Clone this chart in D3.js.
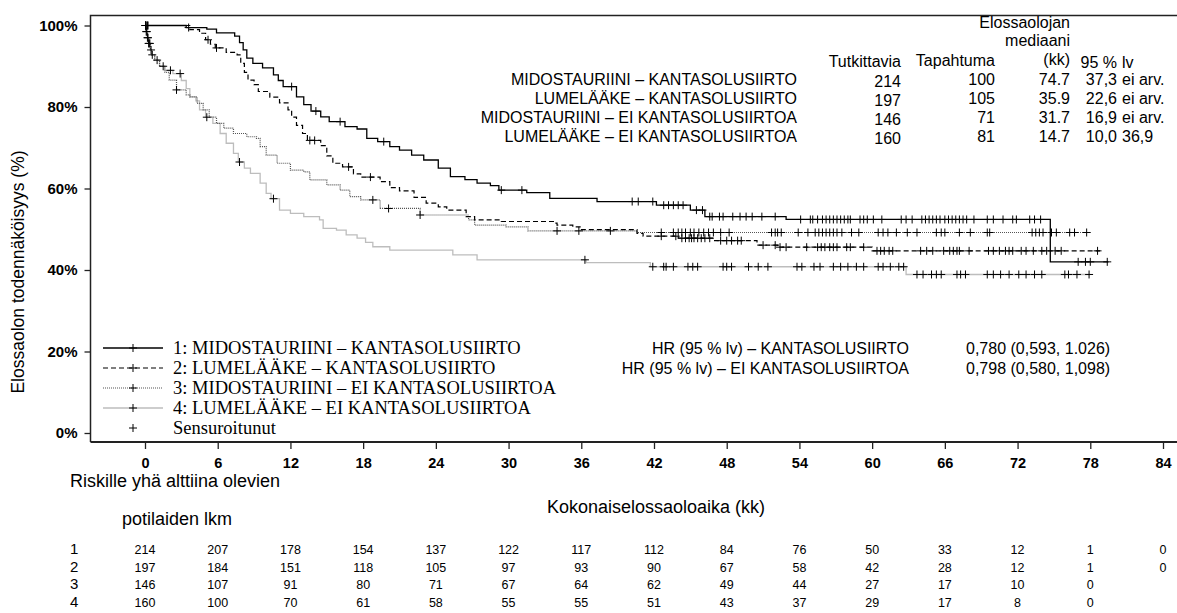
<!DOCTYPE html>
<html>
<head>
<meta charset="utf-8">
<script src="https://cdn.jsdelivr.net/npm/d3@7"></script>
<style>
  body { margin: 0; background: #fff; }
  text { font-family: "Liberation Sans", Arial, sans-serif; fill: #000; }
  .serif { font-family: "Liberation Serif", "Times New Roman", serif; }
</style>
</head>
<body>
<svg id="chart" width="1177" height="613"></svg>
<script>
// time axis + y axis ticks
var months = [0, 6, 12, 18, 24, 30, 36, 42, 48, 54, 60, 66, 72, 78, 84];
var yTicks = [0, 20, 40, 60, 80, 100];

var groupNames = ["MIDOSTAURIINI – KANTASOLUSIIRTO", "LUMELÄÄKE – KANTASOLUSIIRTO",
  "MIDOSTAURIINI – EI KANTASOLUSIIRTOA", "LUMELÄÄKE – EI KANTASOLUSIIRTOA"];
var nPatients = [214, 197, 146, 160];
var nEvents = [100, 105, 71, 81];
var medians = ["74.7", "35.9", "31.7", "14.7"];
var ciLow = ["37,3", "22,6", "16,9", "10,0"];
var ciHigh = ["ei arv.", "ei arv.", "ei arv.", "36,9"];

var hrLabels = ["HR (95 % lv) – KANTASOLUSIIRTO", "HR (95 % lv) – EI KANTASOLUSIIRTOA"];
var hrValues = ["0,780 (0,593, 1.026)", "0,798 (0,580, 1,098)"];

// Kaplan-Meier steps: [month, survival %] from that month on
var steps1 = [[0,100],[3.4,99.5],[5.1,99.1],[5.9,98.2],[7.4,97.4],[7.8,95.8],[8.1,94],[8.4,92],[8.9,90.7],[9.7,89.6],
  [10.6,87.9],[11.0,86.5],[11.4,85],[12.5,82.5],[13.1,80.6],[13.7,79],[14.5,77.6],[15.2,76.4],[16.5,75.2],[17.5,74.6],
  [18.3,72.3],[19.2,71.5],[20.2,70.3],[21,69.4],[22,68.2],[23,67],[24.2,65],[25.2,62.9],[26.4,62.2],[27.4,61.3],
  [28.5,60.7],[29.2,59.6],[31.5,59],[33.4,57.6],[37.3,56.8],[42.2,55.9],[45,54.7],[46.2,53.1],[52.9,52.4],[74.7,42.0]];
var steps2 = [[0,100],[3.7,99.0],[4.5,98.1],[5.0,96.5],[5.4,95.4],[5.8,94.5],[6.7,93.4],[7.6,92.8],[7.9,90.7],[8.2,88.5],
  [8.5,86.6],[9.0,85.5],[9.35,83.8],[10.3,82.4],[11.1,81.0],[11.8,79.3],[12.1,77.5],[12.5,75.5],[13.0,73.5],[13.4,71.8],
  [14.5,70.5],[15.0,68.0],[15.5,66.2],[16.3,65.3],[17.2,63.6],[17.8,62.8],[19.4,61.7],[20.2,60.2],[21,59.4],[22.2,57.8],
  [23.2,56.4],[24.2,55.5],[24.9,54.7],[26.5,53.1],[27.2,52.3],[29.4,51.9],[33.7,51.5],[34.0,51.0],[35.3,50.6],[35.9,49.9],
  [40.6,49.0],[41.1,48.3],[44,47.8],[47,47.2],[50.5,46.1],[52.2,45.6],[60.0,44.7]];
var steps3 = [[0,100],[0.1,98.5],[0.2,97],[0.3,95.6],[0.45,94],[0.55,92.8],[0.8,91.5],[1.2,90],[1.65,88.5],[2.0,86.6],
  [2.6,84.2],[3.4,83],[3.7,82.5],[4.3,80.9],[4.8,79.3],[5.3,77.5],[5.9,76],[6.5,74.8],[7.3,73.5],[8.4,72.7],
  [9.2,72.3],[9.5,70.3],[10,68.2],[10.9,66.2],[12,64.5],[13.1,64.1],[13.6,62.1],[15,60.9],[16.1,59.6],[16.9,58],
  [17.8,57.2],[19.4,55.1],[22.7,53.5],[26.7,52.3],[27.2,51],[29.8,50.6],[31.6,49.6],[40.6,49.2]];
var steps4 = [[0,100],[0.1,98.5],[0.2,97],[0.3,95.6],[0.45,94],[0.55,92.8],[0.8,91.5],[1.2,90],[1.6,89],[2.3,88.2],
  [3.0,86.5],[3.4,84.5],[3.7,82.5],[4.2,81.5],[4.5,79.3],[5.0,77.5],[5.6,76],[6.2,73.5],[6.7,71.1],[7.3,68.6],
  [7.7,66.5],[8.2,65],[8.7,63.7],[9.5,61.3],[10,58.8],[10.4,57.5],[11.1,54.7],[12,53.9],[13.1,53.1],[14.4,52.3],
  [14.7,50.2],[15.8,49.8],[16.6,48.6],[17.5,47.8],[18.2,46.8],[18.8,45.7],[20.2,44.9],[25.4,43.7],[27.4,42.5],[36.4,41.8],
  [41.7,40.8],[62.8,38.9]];
var endTimes = [79.5, 78.8, 78.0, 78.0];

// censoring times (months)
var censor1 = [0.05,0.15,0.25,3.6,12.1,14.1,16.1,19.7,29.4,31.1,40.2,40.7,41.9,42.8,43.2,43.6,44.0,44.4,45.5,46.0,46.6,
  46.8,47.4,47.7,48.5,49.1,49.6,50.1,50.9,52.0,54.1,54.9,55.1,55.5,55.9,56.2,56.5,56.8,57.1,57.4,57.7,58.0,58.2,59.0,
  59.3,59.6,60.1,60.8,62.4,62.8,63.3,64.1,64.4,64.7,65.0,65.3,65.6,66.0,66.3,66.6,66.9,67.2,67.5,67.8,68.4,69.5,70.0,
  70.8,71.6,71.9,73.0,73.4,73.9,77.0,77.6,78.0,79.4];
var censor2 = [0.05,0.2,5.2,5.9,13.6,14.0,16.8,18.6,42.6,43.8,44.3,44.6,44.9,45.1,45.3,45.6,45.9,46.2,46.6,47.5,48.0,
  48.4,48.9,49.2,51.0,52.0,52.4,52.9,54.6,55.5,55.8,56.1,56.5,56.8,57.1,57.9,58.2,59.3,60.4,60.7,61.0,61.4,61.7,64.0,
  64.5,65.0,65.9,66.4,66.7,67.0,67.2,68.0,69.6,70.0,70.5,71.0,71.3,71.6,72.3,72.7,73.3,74.0,74.4,75.1,75.6,78.6];
var censor3 = [0.05,0.15,0.25,0.35,0.5,1.0,2.6,18.8,20.1,22.7,34.0,35.8,38.4,42.6,43.6,44.0,44.3,44.6,45.0,45.3,45.7,
  46.1,46.5,46.9,47.5,48.2,51.7,52.0,52.2,52.5,53.9,54.7,55.3,55.6,55.9,56.2,56.5,56.8,57.1,57.5,58.3,58.9,60.5,60.9,
  61.3,62.0,62.9,63.7,65.3,65.7,66.0,67.2,68.1,69.5,69.7,73.2,73.5,73.8,74.1,74.8,75.2,76.3,76.7,77.7];
var censor4 = [0.05,0.1,0.2,0.3,0.4,0.6,1.5,2.1,2.9,5.1,7.8,10.6,36.3,41.9,42.8,43.0,43.6,44.8,45.2,45.6,47.7,48.0,48.4,
  49.8,50.6,51.4,53.8,54.2,55.2,55.7,56.8,57.4,58.0,58.7,59.3,60.5,60.9,61.5,62.2,62.6,63.7,64.2,64.9,65.3,65.7,67.0,
  67.3,67.7,69.5,70.0,70.6,71.3,72.1,72.7,73.4,74.0,75.9,76.2,76.9,77.9];

// numbers at risk per group at each month tick
var atRisk1 = [214, 207, 178, 154, 137, 122, 117, 112, 84, 76, 50, 33, 12, 1, 0];
var atRisk2 = [197, 184, 151, 118, 105, 97, 93, 90, 67, 58, 42, 28, 12, 1, 0];
var atRisk3 = [146, 107, 91, 80, 71, 67, 64, 62, 49, 44, 27, 17, 10, 0];
var atRisk4 = [160, 100, 70, 61, 58, 55, 55, 51, 43, 37, 29, 17, 8, 0];

var allSteps = [steps1, steps2, steps3, steps4];
var allCensor = [censor1, censor2, censor3, censor4];
var allRisk = [atRisk1, atRisk2, atRisk3, atRisk4];

var lineStyles = [
  { stroke: "#000", dash: null, width: 1.3 },
  { stroke: "#000", dash: "5,3", width: 1.2 },
  { stroke: "#555", dash: "1,1", width: 1.2 },
  { stroke: "#bdbdbd", dash: null, width: 1.3 }
];

var svg = d3.select("#chart");
var x = d3.scaleLinear().domain([0, 84]).range([145, 1163]);
var y = d3.scaleLinear().domain([0, 100]).range([433, 25.5]);

var frameLeft = 90.5, frameTop = 15.5, frameBottom = 442;

// frame
svg.append("path")
  .attr("d", "M" + frameLeft + "," + frameBottom + "V" + frameTop + "H1177")
  .attr("fill", "none").attr("stroke", "#222").attr("stroke-width", 1.5);
svg.append("line")
  .attr("x1", frameLeft).attr("x2", 1177).attr("y1", frameBottom).attr("y2", frameBottom)
  .attr("stroke", "#222").attr("stroke-width", 1.8);

// axes
var yAxis = svg.append("g")
  .attr("transform", "translate(" + frameLeft + ",0)")
  .call(d3.axisLeft(y).tickValues(yTicks).tickFormat(function (d) { return d + "%"; }).tickSize(6).tickPadding(7));
yAxis.select(".domain").remove();
yAxis.selectAll("text").style("font-size", "15px").style("font-weight", "bold");
yAxis.selectAll("line").attr("stroke", "#222").attr("stroke-width", 1.3);

var xAxis = svg.append("g")
  .attr("transform", "translate(0," + frameBottom + ")")
  .call(d3.axisBottom(x).tickValues(months).tickSize(7).tickPadding(9));
xAxis.select(".domain").remove();
xAxis.selectAll("text").style("font-size", "14.5px").style("font-weight", "bold");
xAxis.selectAll("line").attr("stroke", "#222").attr("stroke-width", 1.3);

svg.append("text")
  .attr("transform", "translate(24,272) rotate(-90)")
  .attr("text-anchor", "middle")
  .style("font-size", "17.5px")
  .text("Elossaolon todennäköisyys (%)");

// curves
var km = d3.line()
  .x(function (d) { return x(d[0]); })
  .y(function (d) { return y(d[1]); })
  .curve(d3.curveStepAfter);

function survAt(steps, t) {
  var p = steps[0][1];
  steps.forEach(function (s) { if (s[0] <= t) p = s[1]; });
  return p;
}

function plusPath(cx, cy, r) {
  return "M" + (cx - r) + "," + cy + "H" + (cx + r) + "M" + cx + "," + (cy - r) + "V" + (cy + r);
}

var drawOrder = [3, 2, 1, 0];
drawOrder.forEach(function (i) {
  var st = lineStyles[i];
  var pts = allSteps[i].concat([[endTimes[i], allSteps[i][allSteps[i].length - 1][1]]]);
  svg.append("path")
    .datum(pts)
    .attr("d", km)
    .attr("fill", "none")
    .attr("stroke", st.stroke)
    .attr("stroke-width", st.width)
    .attr("stroke-dasharray", st.dash);
});
drawOrder.forEach(function (i) {
  svg.append("g").selectAll("path")
    .data(allCensor[i])
    .enter().append("path")
    .attr("d", function (t) { return plusPath(x(t), y(survAt(allSteps[i], t)), 4); })
    .attr("stroke", "#000")
    .attr("stroke-width", 1);
});

// legend
var legend = svg.append("g");
var legendRows = groupNames.map(function (n, i) { return (i + 1) + ": " + n; }).concat(["Sensuroitunut"]);
legendRows.forEach(function (label, i) {
  var cy = 348 + i * 20;
  if (i < 4) {
    var st = lineStyles[i];
    legend.append("line")
      .attr("x1", 103).attr("x2", 163).attr("y1", cy).attr("y2", cy)
      .attr("stroke", st.stroke).attr("stroke-width", st.width)
      .attr("stroke-dasharray", st.dash);
  }
  legend.append("path").attr("d", plusPath(133, cy, 4)).attr("stroke", "#000").attr("stroke-width", 1);
  legend.append("text").attr("class", "serif")
    .attr("x", 173).attr("y", cy + 6)
    .style("font-size", "18.5px")
    .text(label);
});

// summary table (top right)
var tbl = svg.append("g").style("font-size", "16px");
tbl.append("text").attr("x", 1070).attr("y", 28).attr("text-anchor", "end").text("Elossaolojan");
tbl.append("text").attr("x", 1070).attr("y", 46).attr("text-anchor", "end").text("mediaani");
tbl.append("text").attr("x", 1070).attr("y", 65).attr("text-anchor", "end").text("(kk)");
tbl.append("text").attr("x", 901).attr("y", 67).attr("text-anchor", "end").text("Tutkittavia");
tbl.append("text").attr("x", 995).attr("y", 66).attr("text-anchor", "end").text("Tapahtuma");
tbl.append("text").attr("x", 1117).attr("y", 68).attr("text-anchor", "end").text("95 %");
tbl.append("text").attr("x", 1122).attr("y", 68).text("lv");
groupNames.forEach(function (n, i) {
  var by = 85 + i * 19;
  tbl.append("text").attr("x", 797).attr("y", by).attr("text-anchor", "end").text(n);
  tbl.append("text").attr("x", 901).attr("y", by + 2).attr("text-anchor", "end").text(nPatients[i]);
  tbl.append("text").attr("x", 995).attr("y", by).attr("text-anchor", "end").text(nEvents[i]);
  tbl.append("text").attr("x", 1070).attr("y", by).attr("text-anchor", "end").text(medians[i]);
  tbl.append("text").attr("x", 1117).attr("y", by).attr("text-anchor", "end").text(ciLow[i]);
  tbl.append("text").attr("x", 1122).attr("y", by).text(ciHigh[i]);
});

// hazard ratios
hrLabels.forEach(function (l, i) {
  var by = 354 + i * 20;
  tbl.append("text").attr("x", 909).attr("y", by).attr("text-anchor", "end").text(l);
  tbl.append("text").attr("x", 966).attr("y", by).text(hrValues[i]);
});

// numbers at risk
var risk = svg.append("g").style("font-size", "18px");
risk.append("text").attr("x", 70).attr("y", 487).text("Riskille yhä alttiina olevien");
risk.append("text").attr("x", 122).attr("y", 525).text("potilaiden lkm");
risk.append("text").attr("x", 656).attr("y", 513).attr("text-anchor", "middle").text("Kokonaiselossaoloaika (kk)");
allRisk.forEach(function (row, i) {
  var by = 554 + i * 17.5;
  risk.append("text").attr("x", 70).attr("y", by).style("font-size", "15px").text(i + 1);
  risk.append("g").selectAll("text")
    .data(row)
    .enter().append("text")
    .attr("x", function (d, j) { return x(months[j]); })
    .attr("y", by)
    .attr("text-anchor", "middle")
    .style("font-size", "12.5px")
    .text(function (d) { return d; });
});
</script>
</body>
</html>
